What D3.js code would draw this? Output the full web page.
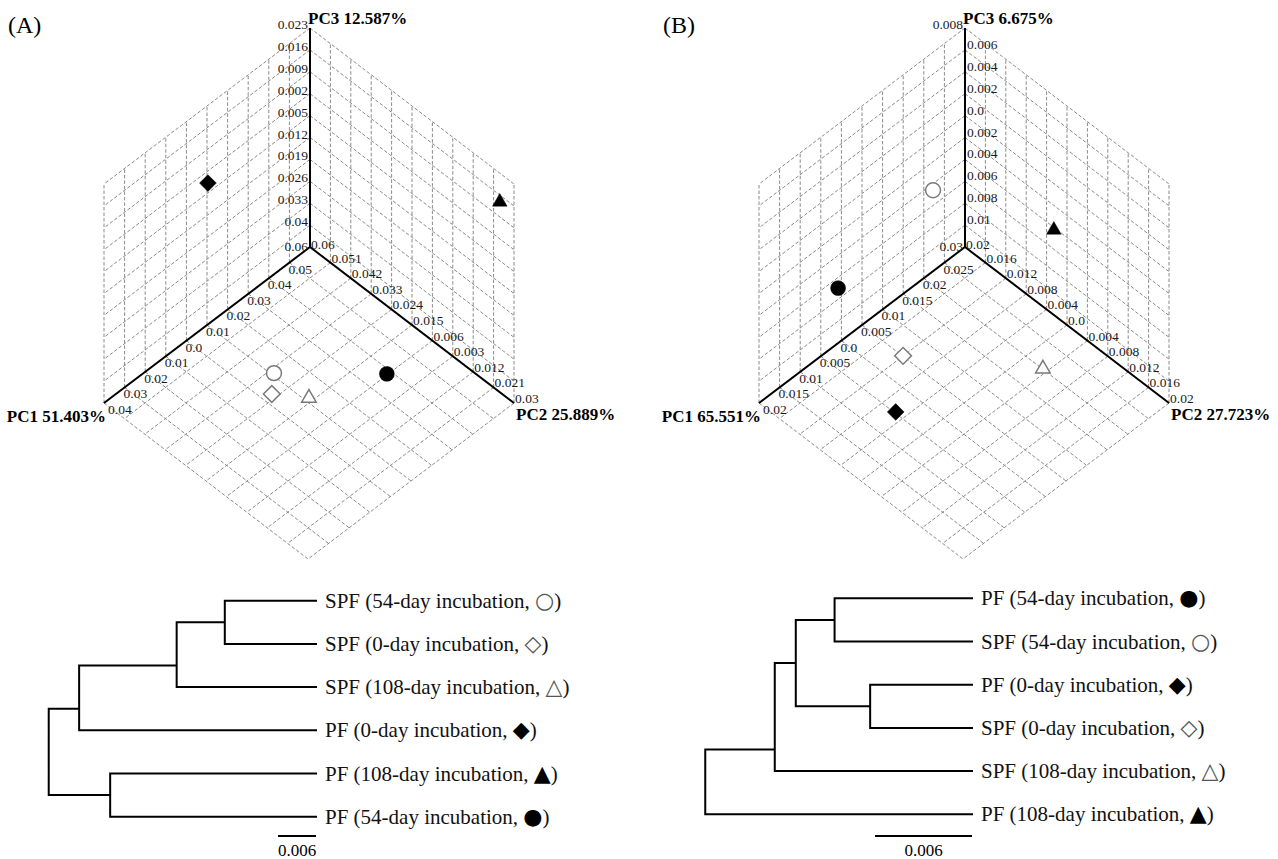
<!DOCTYPE html>
<html>
<head>
<meta charset="utf-8">
<script src="https://cdn.jsdelivr.net/npm/d3@7"></script>
<style>
  body { margin: 0; background: #fff; }
  svg { display: block; font-family: "Liberation Serif", "Times New Roman", serif; }
</style>
</head>
<body>
<script>
// samples (same order in every array below)
var sampleGroup = ['PF', 'PF', 'PF', 'SPF', 'SPF', 'SPF'];
var sampleDay = [0, 54, 108, 0, 54, 108];

// (A) PCA scores
var pcaA_PC1 = [0.0066, 0.0313, 0.0564, 0.0003, 0.0040, 0.0081];
var pcaA_PC2 = [0.0565, 0.0000, -0.0270, 0.0226, 0.0250, 0.0133];
var pcaA_PC3 = [0.0020, -0.0400, 0.0174, -0.0435, -0.0400, -0.0435];
var pcaA_explained = ['51.403%', '25.889%', '12.587%'];
var ticksA_PC1 = [0.06, 0.05, 0.04, 0.03, 0.02, 0.01, 0, -0.01, -0.02, -0.03, -0.04];
var ticksA_PC2 = [0.06, 0.051, 0.042, 0.033, 0.024, 0.015, 0.006, -0.003, -0.012, -0.021, -0.03];
var ticksA_PC3 = [0.023, 0.016, 0.009, 0.002, -0.005, -0.012, -0.019, -0.026, -0.033, -0.04, -0.047];

// (B) PCA scores
var pcaB_PC1 = [-0.0065, -0.0060, 0.0226, 0.0016, 0.0142, 0.0166];
var pcaB_PC2 = [0.0041, 0.0158, -0.0034, 0.0092, 0.0135, -0.0061];
var pcaB_PC3 = [-0.0110, -0.0040, 0.0000, -0.0100, 0.0000, -0.0100];
var pcaB_explained = ['65.551%', '27.723%', '6.675%'];
var ticksB_PC1 = [0.03, 0.025, 0.02, 0.015, 0.01, 0.005, 0, -0.005, -0.01, -0.015, -0.02];
var ticksB_PC2 = [0.02, 0.016, 0.012, 0.008, 0.004, 0, -0.004, -0.008, -0.012, -0.016, -0.02];
var ticksB_PC3 = [0.008, 0.006, 0.004, 0.002, 0, -0.002, -0.004, -0.006, -0.008, -0.01, -0.012];

// cluster trees: merge k joins left[k] and right[k] at height[k]; numbers refer to earlier merges (1-based)
var dendA_left = ['SPF54', 1, 2, 'PF108', 3];
var dendA_right = ['SPF0', 'SPF108', 'PF0', 'PF54', 4];
var dendA_height = [0.0144, 0.0220, 0.0374, 0.0325, 0.0422];
var dendB_left = ['PF54', 'PF0', 1, 3, 4];
var dendB_right = ['SPF54', 'SPF0', 2, 'SPF108', 'PF108'];
var dendB_height = [0.0085, 0.0063, 0.0109, 0.0122, 0.0165];
var scaleBarValue = 0.006;

var W = 1278, H = 859;
var svg = d3.select('body').append('svg').attr('width', W).attr('height', H);

var keys = sampleGroup.map(function (g, i) { return g + sampleDay[i]; });
var shapeByDay = d3.scaleOrdinal().domain([0, 54, 108]).range(['diamond', 'circle', 'triangle']);
var glyph = {
  PF: d3.scaleOrdinal().domain([0, 54, 108]).range(['\u25C6', '\u25CF', '\u25B2']),
  SPF: d3.scaleOrdinal().domain([0, 54, 108]).range(['\u25C7', '\u25CB', '\u25B3'])
};
var symbolGen = {
  circle: d3.symbol(d3.symbolCircle, 175),
  diamond: d3.symbol(d3.symbolSquare, 140),
  triangle: d3.symbol(d3.symbolTriangle, 92)
};

function fmt(v) { return v === 0 ? '0.0' : String(+Math.abs(v).toFixed(3)); }

// isometric box directions
var E1 = [-206, 156], E2 = [204, 156], E3 = [0, -219];

function drawPCA(origin, pc1, pc2, pc3, t1, t2, t3, explained, letter, pc3Right) {
  var g = svg.append('g');
  var s1 = d3.scaleLinear().domain([t1[0], t1[t1.length - 1]]).range([0, 1]);
  var s2 = d3.scaleLinear().domain([t2[0], t2[t2.length - 1]]).range([0, 1]);
  var s3 = d3.scaleLinear().domain([t3[t3.length - 1], t3[0]]).range([0, 1]);
  function P(u1, u2, u3) {
    return [origin[0] + u1 * E1[0] + u2 * E2[0] + u3 * E3[0],
            origin[1] + u1 * E1[1] + u2 * E2[1] + u3 * E3[1]];
  }
  var segs = [];
  t1.forEach(function (v) { var u = s1(v); segs.push([P(u, 0, 0), P(u, 0, 1)]); segs.push([P(u, 0, 0), P(u, 1, 0)]); });
  t2.forEach(function (v) { var u = s2(v); segs.push([P(0, u, 0), P(0, u, 1)]); segs.push([P(0, u, 0), P(1, u, 0)]); });
  t3.forEach(function (v) { var u = s3(v); segs.push([P(0, 0, u), P(1, 0, u)]); segs.push([P(0, 0, u), P(0, 1, u)]); });

  g.selectAll('line.grid').data(segs).enter().append('line')
    .attr('class', 'grid')
    .attr('x1', function (d) { return d[0][0]; }).attr('y1', function (d) { return d[0][1]; })
    .attr('x2', function (d) { return d[1][0]; }).attr('y2', function (d) { return d[1][1]; })
    .attr('stroke', '#8a8a8a').attr('stroke-width', 1).attr('stroke-dasharray', '3.5,2');

  var axes = [[P(0, 0, 0), P(1, 0, 0)], [P(0, 0, 0), P(0, 1, 0)], [P(0, 0, 0), P(0, 0, 1)]];
  g.selectAll('line.axis').data(axes).enter().append('line')
    .attr('x1', function (d) { return d[0][0]; }).attr('y1', function (d) { return d[0][1]; })
    .attr('x2', function (d) { return d[1][0]; }).attr('y2', function (d) { return d[1][1]; })
    .attr('stroke', '#000').attr('stroke-width', 2);

  var tick = g.append('g').style('font-size', '13.5px').attr('fill', '#1a1a1a');
  t1.forEach(function (v, i) {
    var p = P(s1(v), 0, 0);
    if (i === 0) tick.append('text').attr('x', p[0] - 2).attr('y', p[1] + 4).attr('text-anchor', 'end').text(fmt(v));
    else tick.append('text').attr('x', p[0] + (i === t1.length - 1 ? 4 : -1)).attr('y', p[1] + 11).text(fmt(v));
  });
  t2.forEach(function (v, i) {
    var p = P(0, s2(v), 0);
    tick.append('text').attr('x', p[0] + 1).attr('y', p[1] + (i === 0 ? 2 : 0)).text(fmt(v));
  });
  t3.forEach(function (v, i) {
    if (i === t3.length - 1) return;
    var p = P(0, 0, s3(v));
    if (i === 0 || !pc3Right) tick.append('text').attr('x', p[0] - 2).attr('y', p[1] + 1).attr('text-anchor', 'end').text(fmt(v));
    else tick.append('text').attr('x', p[0] + 2).attr('y', p[1] - 1).text(fmt(v));
  });

  var title = g.append('g').style('font-size', '17px').style('font-weight', 'bold');
  var e1 = P(1, 0, 0), e2 = P(0, 1, 0), e3 = P(0, 0, 1);
  title.append('text').attr('x', e1[0] + 2).attr('y', e1[1] + 19).attr('text-anchor', 'end').text('PC1 ' + explained[0]);
  title.append('text').attr('x', e2[0] + 2).attr('y', e2[1] + 17).text('PC2 ' + explained[1]);
  title.append('text').attr('x', e3[0] - 2).attr('y', e3[1] - 4).text('PC3 ' + explained[2]);

  g.selectAll('path.pt').data(keys).enter().append('path')
    .attr('d', function (d, i) { return symbolGen[shapeByDay(sampleDay[i])](); })
    .attr('transform', function (d, i) {
      var p = P(s1(pc1[i]), s2(pc2[i]), s3(pc3[i]));
      var rot = shapeByDay(sampleDay[i]) === 'diamond' ? ' rotate(45)' : '';
      return 'translate(' + p[0] + ',' + p[1] + ')' + rot;
    })
    .attr('fill', function (d, i) { return sampleGroup[i] === 'PF' ? '#000' : '#fff'; })
    .attr('stroke', function (d, i) { return sampleGroup[i] === 'PF' ? '#000' : '#7a7a7a'; })
    .attr('stroke-width', function (d, i) { return sampleGroup[i] === 'PF' ? 0.5 : 1.5; });

  svg.append('text').attr('x', origin[0] - 302).attr('y', 33).style('font-size', '24px').text('(' + letter + ')');
}

function drawTree(left, right, height, leafX, textX, yTop, yBottom, barPx) {
  var g = svg.append('g');
  var merges = height.map(function (h, k) { return { l: left[k], r: right[k], h: h }; });
  function leavesOf(ref) {
    if (typeof ref === 'number') { var m = merges[ref - 1]; return leavesOf(m.l).concat(leavesOf(m.r)); }
    return [ref];
  }
  var order = leavesOf(merges.length);
  var y = d3.scalePoint().domain(order).range([yTop, yBottom]);
  var yIdx = d3.scaleLinear().domain([0, order.length - 1]).range([yTop, yBottom]);
  var x = d3.scaleLinear().domain([0, scaleBarValue]).range([leafX, leafX - barPx]);

  function pos(ref) {
    if (typeof ref === 'number') {
      var m = merges[ref - 1];
      var a = leavesOf(m.l), b = leavesOf(m.r);
      var yy = yIdx((order.indexOf(a[a.length - 1]) + order.indexOf(b[0])) / 2);
      return [x(m.h), yy];
    }
    return [x(0), y(ref)];
  }
  var path = d3.path();
  merges.forEach(function (m, k) {
    var p = pos(k + 1), a = pos(m.l), b = pos(m.r);
    path.moveTo(a[0], a[1]); path.lineTo(p[0], a[1]); path.lineTo(p[0], b[1]); path.lineTo(b[0], b[1]);
  });
  g.append('path').attr('d', path.toString()).attr('fill', 'none').attr('stroke', '#000')
    .attr('stroke-width', 2).attr('stroke-linecap', 'square');

  order.forEach(function (key) {
    var i = keys.indexOf(key);
    var t = g.append('text').attr('x', textX).attr('y', y(key) + 7).style('font-size', '21px').attr('fill', '#111');
    t.append('tspan').text(sampleGroup[i] + ' (' + sampleDay[i] + '-day incubation, ');
    t.append('tspan').attr('fill', sampleGroup[i] === 'PF' ? '#000' : '#555')
      .style('font-family', '"DejaVu Sans", sans-serif').style('font-size', '22px')
      .text(glyph[sampleGroup[i]](sampleDay[i]));
    t.append('tspan').text(')');
  });

  var barY = 836;
  g.append('line').attr('x1', x(scaleBarValue)).attr('x2', x(0)).attr('y1', barY).attr('y2', barY)
    .attr('stroke', '#000').attr('stroke-width', 2);
  g.append('text').attr('x', (x(scaleBarValue) + x(0)) / 2).attr('y', barY + 20)
    .attr('text-anchor', 'middle').style('font-size', '17px').text(String(scaleBarValue));
}

drawPCA([310, 247], pcaA_PC1, pcaA_PC2, pcaA_PC3, ticksA_PC1, ticksA_PC2, ticksA_PC3, pcaA_explained, 'A', false);
drawPCA([965, 247], pcaB_PC1, pcaB_PC2, pcaB_PC3, ticksB_PC1, ticksB_PC2, ticksB_PC3, pcaB_explained, 'B', true);
drawTree(dendA_left, dendA_right, dendA_height, 316, 325, 600.7, 816.7, 38);
drawTree(dendB_left, dendB_right, dendB_height, 972, 981, 598.3, 814.3, 97);
</script>
</body>
</html>
